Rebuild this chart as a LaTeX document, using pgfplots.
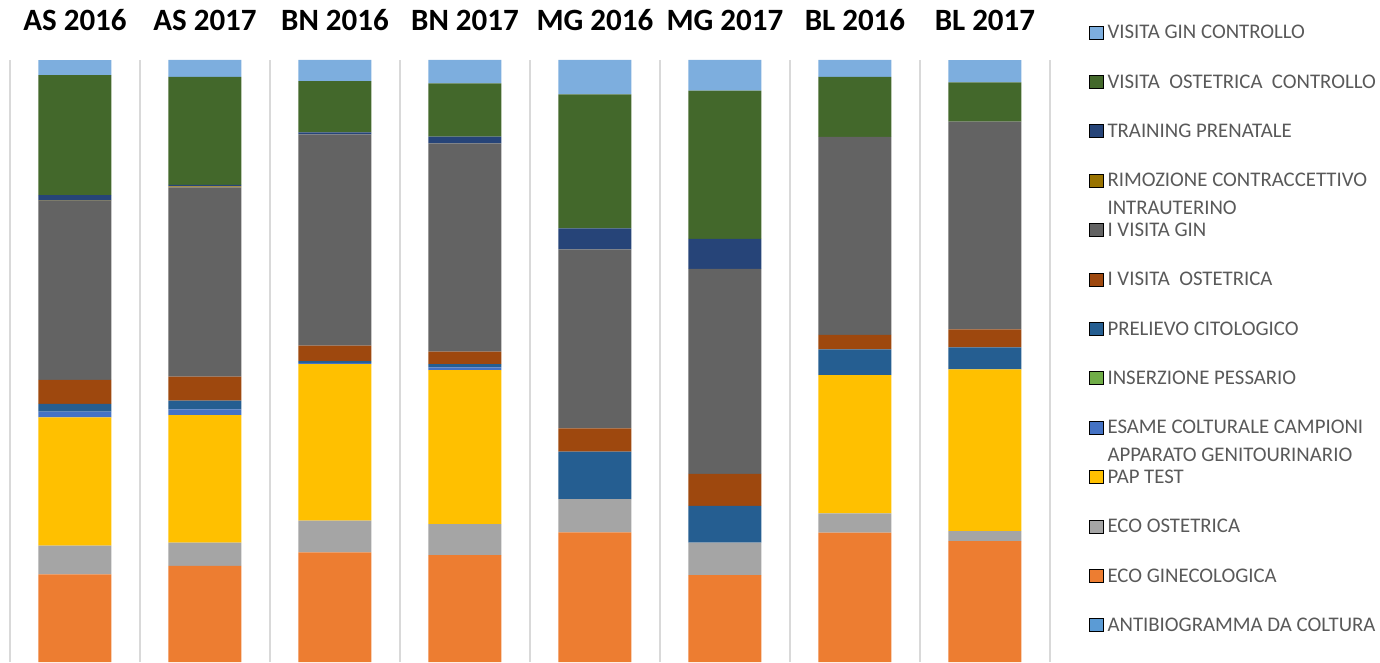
\documentclass[border=0pt]{standalone}
\usepackage{fontspec}
\setmainfont{Carlito}
\usepackage{pgfplots}
\usepackage{pgfplotstable}
\pgfplotsset{compat=1.18}
\definecolor{cVGC}{HTML}{7DAEDE}
\definecolor{cVOC}{HTML}{43682B}
\definecolor{cTRA}{HTML}{264478}
\definecolor{cRIM}{HTML}{997300}
\definecolor{cIVG}{HTML}{636363}
\definecolor{cIVO}{HTML}{9E480E}
\definecolor{cPRE}{HTML}{255E91}
\definecolor{cINS}{HTML}{70AD47}
\definecolor{cESA}{HTML}{4472C4}
\definecolor{cPAP}{HTML}{FFC000}
\definecolor{cECOO}{HTML}{A5A5A5}
\definecolor{cECOG}{HTML}{ED7D31}
\definecolor{cANT}{HTML}{5B9BD5}
\definecolor{legtext}{HTML}{595959}
\definecolor{sep}{HTML}{D9D9D9}
\pgfplotstableread{
x ANT ECOG ECOO PAP ESA INS PRE IVO IVG RIM TRA VOC VGC
0 0 14.57 4.75 21.33 0.93 0 1.28 3.99 29.73 0.08 0.91 19.93 2.49
1 0 15.95 3.87 21.21 0.95 0 1.43 3.99 31.46 0.13 0.25 17.94 2.82
2 0 18.22 5.25 26.03 0.17 0 0.33 2.54 35.12 0 0.33 8.52 3.49
3 0 17.77 5.15 25.58 0.45 0 0.55 2.04 34.62 0 1.10 8.87 3.87
4 0 21.54 5.53 0 0 0 7.86 3.89 29.73 0 3.49 22.26 5.70
5 0 14.45 5.37 0 0 0 6.10 5.32 34.05 0 4.98 24.63 5.10
6 0 21.48 3.22 22.97 0 0 4.27 2.38 32.89 0 0 9.97 2.82
7 0 20.10 1.66 26.86 0 0 3.65 2.99 34.52 0 0 6.51 3.70
}\data
\begin{document}
\begin{tikzpicture}
\begin{axis}[
  at={(0pt,0pt)}, anchor=south west,
  scale only axis, width=1040pt, height=602pt,
  xmin=-0.5, xmax=7.5, ymin=0, ymax=100,
  ybar stacked, bar width=73pt,
  axis line style={draw=none},
  major tick length=0pt, minor tick length=0pt,
  ytick=\empty,
  xtick={0,...,7},
  xticklabels={AS 2016, AS 2017, BN 2016, BN 2017, MG 2016, MG 2017, BL 2016, BL 2017},
  xticklabel pos=upper,
  xticklabel style={font=\fontsize{31}{37}\selectfont\bfseries, text=black, anchor=base, yshift=29pt},
  minor xtick={-0.5,0.5,...,7.5},
  xminorgrids,
  minor grid style={draw=sep, line width=2pt},
  reverse legend,
  legend cell align=left,
  legend image code/.code={\draw[#1] (0pt,-6.5pt) rectangle (14pt,6.5pt);},
  legend style={draw=none, fill=none, at={(1.0375,1.0875)}, anchor=north west,
    inner sep=0pt, row sep=0pt, column sep=4pt,
    font=\fontsize{20.8}{25}\selectfont, text=legtext,
    nodes={inner sep=0pt, text height=31.2pt, text depth=18.2pt}},
]
\addplot[fill=cANT, draw=none] table[x=x, y=ANT] {\data};
\addplot[fill=cECOG, draw=none] table[x=x, y=ECOG] {\data};
\addplot[fill=cECOO, draw=none] table[x=x, y=ECOO] {\data};
\addplot[fill=cPAP, draw=none] table[x=x, y=PAP] {\data};
\addplot[fill=cESA, draw=none] table[x=x, y=ESA] {\data};
\addplot[fill=cINS, draw=none] table[x=x, y=INS] {\data};
\addplot[fill=cPRE, draw=none] table[x=x, y=PRE] {\data};
\addplot[fill=cIVO, draw=none] table[x=x, y=IVO] {\data};
\addplot[fill=cIVG, draw=none] table[x=x, y=IVG] {\data};
\addplot[fill=cRIM, draw=none] table[x=x, y=RIM] {\data};
\addplot[fill=cTRA, draw=none] table[x=x, y=TRA] {\data};
\addplot[fill=cVOC, draw=none] table[x=x, y=VOC] {\data};
\addplot[fill=cVGC, draw=none] table[x=x, y=VGC] {\data};
\legend{ANTIBIOGRAMMA DA COLTURA, ECO GINECOLOGICA, ECO OSTETRICA, PAP TEST,
  \rlap{\raisebox{-28pt}[0pt][0pt]{APPARATO GENITOURINARIO}}ESAME COLTURALE CAMPIONI,
  INSERZIONE PESSARIO, PRELIEVO CITOLOGICO, I VISITA~ OSTETRICA, I VISITA GIN,
  \rlap{\raisebox{-28pt}[0pt][0pt]{INTRAUTERINO}}RIMOZIONE CONTRACCETTIVO,
  TRAINING PRENATALE, VISITA~ OSTETRICA~ CONTROLLO, VISITA GIN CONTROLLO}
\end{axis}
\pgfresetboundingbox
\path (-10pt,0pt) rectangle (1370pt,662pt);
\end{tikzpicture}
\end{document}
